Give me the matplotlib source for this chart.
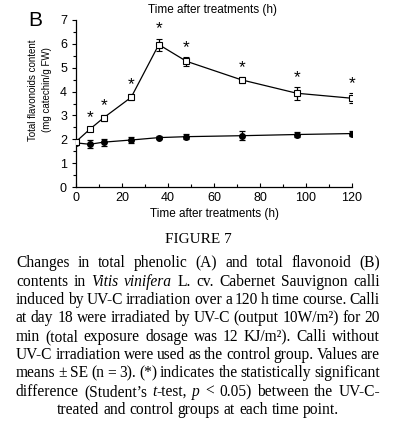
import matplotlib
matplotlib.use("Agg")
import matplotlib.pyplot as plt
from matplotlib.ticker import MultipleLocator

# ---- data ----
time_h = [0, 6, 12, 24, 36, 48, 72, 96, 120]
uvc_mean = [1.90, 2.42, 2.90, 3.76, 5.97, 5.27, 4.49, 3.93, 3.72]
uvc_se = [0.10, 0.08, 0.13, 0.12, 0.25, 0.18, 0.12, 0.27, 0.20]
ctrl_mean = [1.85, 1.79, 1.88, 1.97, 2.07, 2.11, 2.15, 2.20, 2.24]
ctrl_se = [0.10, 0.17, 0.15, 0.13, 0.07, 0.10, 0.19, 0.10, 0.12]
significant = [False, True, True, True, True, True, True, True, True]

x_ticks = [0, 20, 40, 60, 80, 100, 120]
y_ticks = [0, 1, 2, 3, 4, 5, 6, 7]

W, H = 396, 428
fig = plt.figure(figsize=(W / 100, H / 100), dpi=100)
sans = "Liberation Sans"
serif = "Liberation Serif"

ax = fig.add_axes([76 / W, 1 - 187 / H, 276 / W, 167 / H])
ax.errorbar(time_h, ctrl_mean, yerr=ctrl_se, color="black", marker="o",
            markersize=4, mfc="black", mec="black", lw=0.9, capsize=2,
            elinewidth=0.9, capthick=0.9, zorder=3)
ax.errorbar(time_h, uvc_mean, yerr=uvc_se, color="black", marker="s",
            markersize=4, mfc="white", mec="black", mew=0.8, lw=0.9,
            capsize=2, elinewidth=0.9, capthick=0.9, zorder=4)
for t, m, e, s in zip(time_h, uvc_mean, uvc_se, significant):
    if s:
        ax.annotate("*", (t, m + e), xytext=(0, 1.5), textcoords="offset points",
                    ha="center", va="bottom", fontsize=12.5, family=sans)

ax.set_xlim(0, 120)
ax.set_ylim(0, 7)
ax.set_xticks(x_ticks)
ax.set_yticks(y_ticks)
ax.xaxis.set_minor_locator(MultipleLocator(10))
ax.yaxis.set_minor_locator(MultipleLocator(0.5))
ax.tick_params(axis="x", which="major", direction="in", length=3, labelsize=9, width=0.8)
ax.tick_params(axis="x", which="minor", direction="in", length=2, width=0.8)
ax.tick_params(axis="y", which="major", direction="out", length=3, labelsize=9, width=0.8)
ax.tick_params(axis="y", which="minor", direction="out", length=2, width=0.8)
for lab in ax.get_xticklabels() + ax.get_yticklabels():
    lab.set_family(sans)
for sp in ["top", "right"]:
    ax.spines[sp].set_visible(False)
for sp in ["left", "bottom"]:
    ax.spines[sp].set_linewidth(0.9)
ax.set_xlabel("Time after treatments (h)", fontsize=8.5, family=sans, labelpad=3)
ax.patch.set_alpha(0)

fig.text(40 / W, 1 - 90 / H, "Total flavonoids content\n(mg catechin/g FW)",
         rotation=90, ha="center", va="center", multialignment="center",
         fontsize=7, family=sans, linespacing=1.45)

fig.text(213 / W, 1 - 10 / H, "Time after treatments (h)", ha="center",
         va="center", fontsize=8.5, family=sans)
fig.text(35 / W, 1 - 20 / H, "B", ha="center", va="center", fontsize=15,
         family=sans)

# ---- caption ----
fig.text(198 / W, 1 - 239 / H, "FIGURE 7", ha="center", va="center",
         fontsize=11, family=serif)

caption_lines = [
    "Changes in total phenolic (A) and total flavonoid (B)",
    "contents in _Vitis _vinifera L. cv. Cabernet Sauvignon calli",
    "induced by UV-C irradiation over a 120 h time course. Calli",
    "at day 18 were irradiated by UV-C (output 10W/m²) for 20",
    "min (total exposure dosage was 12 KJ/m²). Calli without",
    "UV-C irradiation were used as the control group. Values are",
    "means ± SE (n = 3). (*) indicates the statistically significant",
    "difference (Student’s _t|-test, _p < 0.05) between the UV-C-",
    "treated and control groups at each time point.",
]
line_y = [263, 282, 300, 318, 337, 355, 373, 392, 410]
left_px, right_px = 16, 380
renderer = fig.canvas.get_renderer()


def word_pieces(w):
    pieces = []
    for part in w.split("|"):
        if part.startswith("_"):
            pieces.append((part[1:], "italic"))
        else:
            pieces.append((part, "normal"))
    return pieces


def measure(txt, style, fs):
    t = fig.text(0, 0, txt, fontsize=fs, family=serif, style=style)
    wd = t.get_window_extent(renderer).width
    t.remove()
    return wd


# choose the largest font size for which every justified line still has
# a reasonable word gap
fs = 11.5
while fs > 8:
    ok = True
    for line in caption_lines[:-1]:
        words = line.split(" ")
        tot = sum(measure(p, s, fs) for w in words for p, s in word_pieces(w))
        gap = (right_px - left_px - tot) / (len(words) - 1)
        if gap < fs * 100 / 72 * 0.17:
            ok = False
            break
    if ok:
        break
    fs -= 0.1

for i, (line, yp) in enumerate(zip(caption_lines, line_y)):
    words = line.split(" ")
    items = []
    widths = []
    for w in words:
        arts = []
        wsum = 0
        for txt, style in word_pieces(w):
            t = fig.text(0, 1 - yp / H, txt, ha="left", va="center",
                         fontsize=fs, family=serif, style=style)
            wd = t.get_window_extent(renderer).width
            arts.append((t, wd))
            wsum += wd
        items.append(arts)
        widths.append(wsum)
    total = sum(widths)
    if i < len(caption_lines) - 1:
        gap = (right_px - left_px - total) / (len(words) - 1)
        x = left_px
    else:
        gap = measure("a a", "normal", fs) - measure("aa", "normal", fs)
        full = total + gap * (len(words) - 1)
        x = 198 - full / 2
    for arts, wsum in zip(items, widths):
        xx = x
        for t, wd in arts:
            t.set_x(xx / W)
            xx += wd
        x += wsum + gap

fig.savefig("out.png", dpi=100)
